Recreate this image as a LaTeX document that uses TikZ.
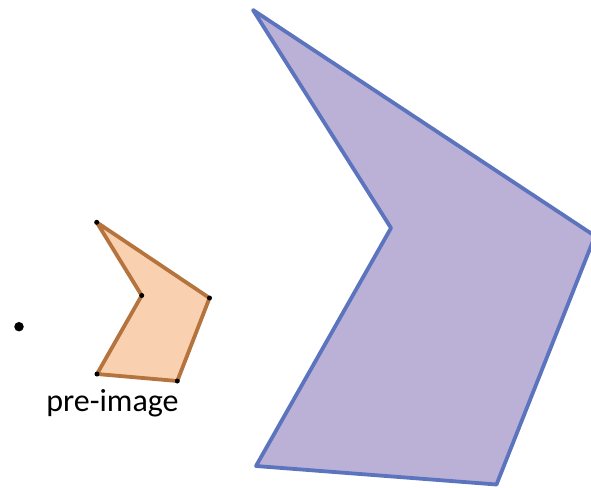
\documentclass[tikz,border=0pt]{standalone}
\usepackage{fontspec}
\setmainfont{Carlito}
\definecolor{prefill}{HTML}{FAD1B0}
\definecolor{predraw}{HTML}{B5733E}
\definecolor{imgfill}{HTML}{BBB0D6}
\definecolor{imgdraw}{HTML}{5B74BD}
\begin{document}
\begin{tikzpicture}[x=1pt,y=-1pt,
  preimg/.style={fill=prefill,draw=predraw,line width=3.8pt,line join=round},
  imgpoly/.style={fill=imgfill,draw=imgdraw,line width=3.8pt,line join=round},
  vdot/.style={circle,fill=black,inner sep=0pt,minimum size=5pt},
  cdot/.style={circle,fill=black,inner sep=0pt,minimum size=9.5pt}]
\useasboundingbox (0,0) rectangle (591,487);
\clip (0,0) rectangle (591,487);
% image polygon
\coordinate (A) at (253,10);
\coordinate (B) at (391,228);
\coordinate (C) at (256,466);
\coordinate (D) at (496.5,484.5);
\coordinate (E) at (595,236);
\draw[imgpoly] (A) -- (B) -- (C) -- (D) -- (E) -- cycle;
% pre-image polygon
\coordinate (a) at (96.7,222.3);
\coordinate (b) at (141.7,295.5);
\coordinate (c) at (97,374);
\coordinate (d) at (177.3,381);
\coordinate (e) at (209.5,298);
\draw[preimg] (a) -- (b) -- (c) -- (d) -- (e) -- cycle;
\foreach \p in {a,b,c,d,e} \node[vdot] (v\p) at (\p) {};
\node[cdot] (center) at (19,326.7) {};
\node[anchor=base,inner sep=0pt,font=\fontsize{32}{32}\selectfont] (lbl) at (112.5,411.7) {pre-image};
\end{tikzpicture}
\end{document}
